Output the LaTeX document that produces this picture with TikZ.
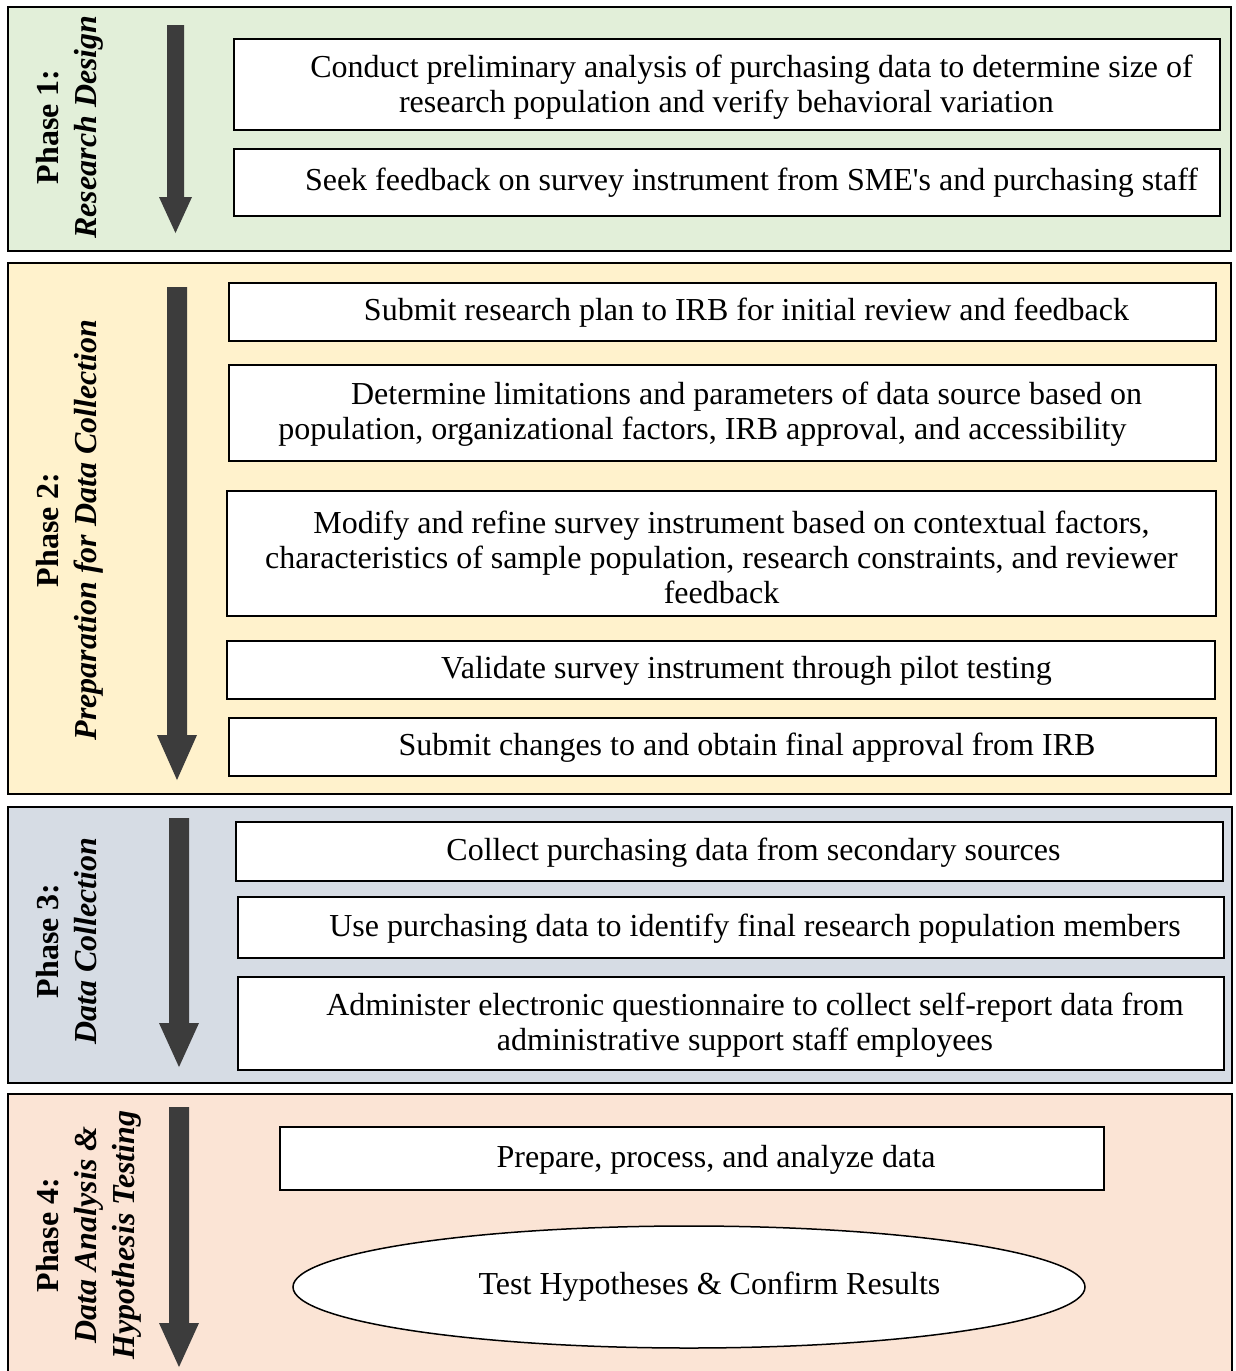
\documentclass[tikz,border=0pt]{standalone}
\usepackage{fontspec}
\setmainfont{Liberation Serif}
\usetikzlibrary{shapes.geometric}

\definecolor{designbg}{HTML}{E2EFD9}
\definecolor{prepbg}{HTML}{FFF2CC}
\definecolor{collectbg}{HTML}{D6DCE4}
\definecolor{analysisbg}{HTML}{FBE4D5}
\definecolor{arrowgray}{HTML}{3C3C3C}

\tikzset{
  panel/.style={draw=black, line width=2pt, rectangle, inner sep=0pt},
  stepbox/.style={draw=black, fill=white, line width=1.8pt, rectangle, inner sep=0pt},
  stepoval/.style={draw=black, fill=white, line width=1.5pt, ellipse, inner sep=0pt},
  steptext/.style={font=\fontsize{32}{35}\selectfont, align=center, inner sep=0pt},
  phaselabel/.style={font=\fontsize{32}{38}\selectfont\bfseries, align=center,
                     rotate=90, anchor=north, inner sep=0pt},
  flowarrow/.style={fill=arrowgray, draw=none},
}

% block arrow: centre x, top, tip, half shaft width, half head width, head length
\newcommand\phasearrow[6]{%
  \fill[flowarrow] ({#1-#4},#2) -- ({#1+#4},#2) -- ({#1+#4},{#3-#6})
    -- ({#1+#5},{#3-#6}) -- (#1,#3) -- ({#1-#5},{#3-#6})
    -- ({#1-#4},{#3-#6}) -- cycle;}

\begin{document}
\begin{tikzpicture}[x=1pt,y=-1pt]
\useasboundingbox (0,0) rectangle (1236,1371);
\clip (0,0) rectangle (1236,1371);
\fill[white] (0,0) rectangle (1236,1371);

% phase panels
\node[panel, fill=designbg,   minimum width=1223pt, minimum height=244pt] (ph1) at (619.5,129) {};
\node[panel, fill=prepbg,     minimum width=1223pt, minimum height=531pt] (ph2) at (619.5,528.5) {};
\node[panel, fill=collectbg,  minimum width=1224pt, minimum height=276pt] (ph3) at (620,945) {};
\node[panel, fill=analysisbg, minimum width=1224pt, minimum height=286pt] (ph4) at (620,1237) {};

% phase titles
\node[phaselabel] (lab1) at (36,127) {Phase 1:\\\textit{Research Design}};
\node[phaselabel] (lab2) at (36,530) {Phase 2:\\\textit{Preparation for Data Collection}};
\node[phaselabel] (lab3) at (36,941) {Phase 3:\\\textit{Data Collection}};
\node[phaselabel] (lab4) at (36,1235) {Phase 4:\\\textit{Data Analysis \&}\\\textit{Hypothesis Testing}};

% downward arrows
\phasearrow{175.5}{25}{233}{8.5}{16.5}{36}
\phasearrow{177}{287}{780}{10}{20}{45}
\phasearrow{179}{818}{1067}{10}{20}{44}
\phasearrow{179}{1107}{1367}{10}{20}{44}

% Phase 1 steps
\node[stepbox, minimum width=986pt, minimum height=91pt] (s1a) at (727,84.5) {};
\node[steptext] (t1a) at (751.5,87) {Conduct preliminary analysis of purchasing data to determine size of\\research population and verify behavioral variation\hspace*{50pt}};
\node[stepbox, minimum width=986pt, minimum height=67pt] (s1b) at (727,182.5) {};
\node[steptext] (t1b) at (751.5,183) {Seek feedback on survey instrument from SME\textquotesingle s and purchasing staff};

% Phase 2 steps
\node[stepbox, minimum width=987pt, minimum height=58pt] (s2a) at (722.5,312) {};
\node[steptext] (t2a) at (746.5,313) {Submit research plan to IRB for initial review and feedback};
\node[stepbox, minimum width=987pt, minimum height=96pt] (s2b) at (722.5,413) {};
\node[steptext] (t2b) at (702.5,414) {\hspace*{88pt}Determine limitations and parameters of data source based on\\population, organizational factors, IRB approval, and accessibility};
\node[stepbox, minimum width=989pt, minimum height=125pt] (s2c) at (721.5,553.5) {};
\node[steptext] (t2c) at (721.5,557) {\hspace*{20pt}Modify and refine survey instrument based on contextual factors,\\characteristics of sample population, research constraints, and reviewer\\feedback};
\node[stepbox, minimum width=988pt, minimum height=58pt] (s2d) at (721,670) {};
\node[steptext] (t2d) at (746.5,671) {Validate survey instrument through pilot testing};
\node[stepbox, minimum width=987pt, minimum height=58pt] (s2e) at (722.5,747) {};
\node[steptext] (t2e) at (747,748) {Submit changes to and obtain final approval from IRB};

% Phase 3 steps
\node[stepbox, minimum width=987pt, minimum height=59pt] (s3a) at (729.5,851.5) {};
\node[steptext] (t3a) at (753.5,852.5) {Collect purchasing data from secondary sources};
\node[stepbox, minimum width=986pt, minimum height=61pt] (s3b) at (731,927.5) {};
\node[steptext] (t3b) at (755,928.5) {Use purchasing data to identify final research population members};
\node[stepbox, minimum width=986pt, minimum height=93pt] (s3c) at (731,1023.5) {};
\node[steptext] (t3c) at (755,1025) {Administer electronic questionnaire to collect self-report data from\\administrative support staff employees\hspace*{20pt}};

% Phase 4 steps
\node[stepbox, minimum width=824pt, minimum height=63pt] (s4a) at (692,1158.5) {};
\node[steptext] (t4a) at (716,1159.5) {Prepare, process, and analyze data};
\node[stepoval, minimum width=792pt, minimum height=122pt] (s4b) at (689,1287) {};
\node[steptext] (t4b) at (709.5,1287) {Test Hypotheses \& Confirm Results};
\end{tikzpicture}
\end{document}
